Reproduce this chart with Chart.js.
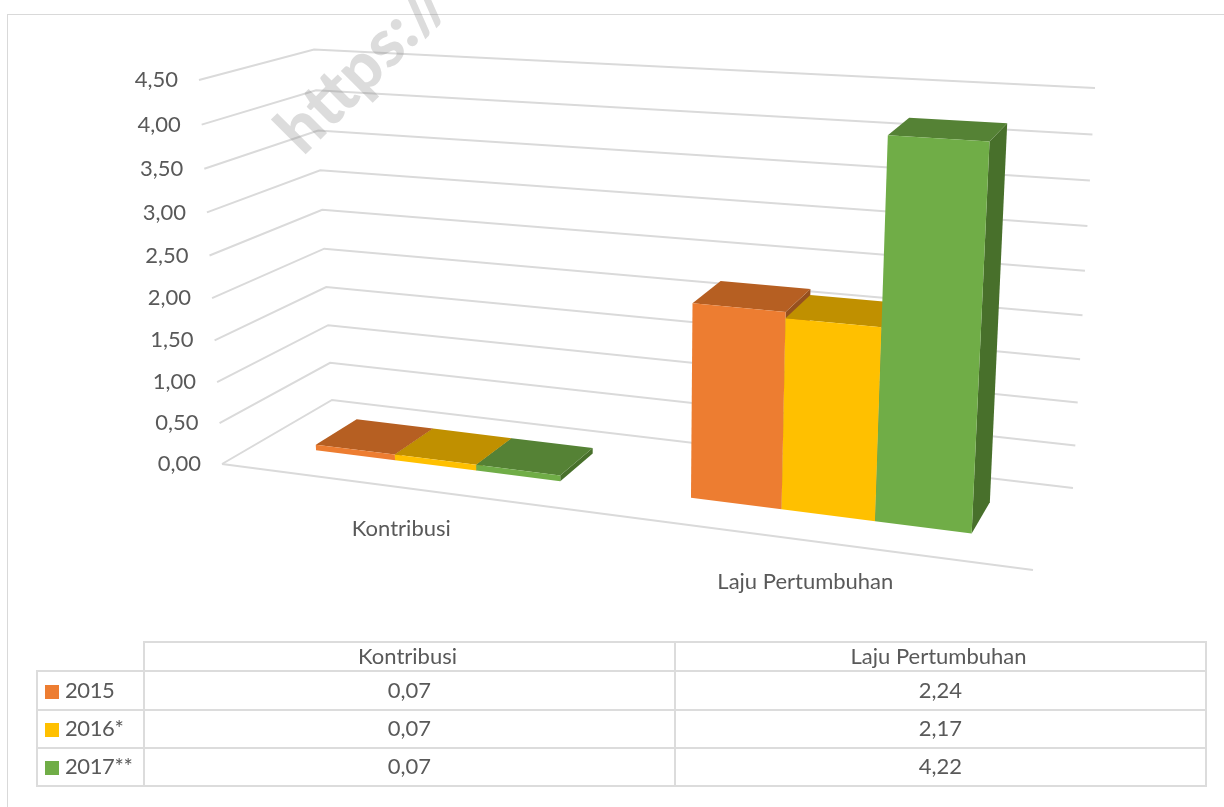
<!DOCTYPE html>
<html>
<head>
<meta charset="utf-8">
<script src="https://cdn.jsdelivr.net/npm/chart.js@4"></script>
<style>
  html, body { margin: 0; padding: 0; background: #fff; overflow: hidden; }
  #page { position: relative; width: 1224px; height: 807px; overflow: hidden; }
  #frame { position: absolute; left: 7px; top: 14px; width: 1300px; height: 900px; border: 1px solid #d9d9d9; }
  #rateChart { position: absolute; left: 0; top: 0; }
  #dataTable {
    position: absolute; left: 36px; top: 641px; border-collapse: collapse; table-layout: fixed;
    font-family: Lato, sans-serif; font-size: 22px; color: #595959;
  }
  #dataTable td { border: 2px solid #dcdcdc; text-align: center; padding: 0 0 2px 0; height: 34px; line-height: 26px; }
  #dataTable tr:first-child td { height: 25px; line-height: 25px; padding: 0 4px 2px 0; }
  #dataTable tr:nth-child(2) td { height: 35px; }
  #dataTable tr:first-child td:first-child { border-left: none; border-top: none; }
  #dataTable td.name { text-align: left; white-space: nowrap; letter-spacing: -0.4px; }
  #dataTable .key { display: inline-block; width: 14px; height: 14px; margin: 0 6px 0 7px; vertical-align: -1px; }
</style>
</head>
<body>
<div id="page">
  <div id="frame"></div>
  <canvas id="rateChart" width="1224" height="807"></canvas>
  <table id="dataTable"></table>
</div>
<script>
const categories = ["Kontribusi", "Laju Pertumbuhan"];
const seriesNames = ["2015", "2016*", "2017**"];
const values2015 = [0.07, 2.24];
const values2016 = [0.07, 2.17];
const values2017 = [0.07, 4.22];
const tickLabels = ["0,00", "0,50", "1,00", "1,50", "2,00", "2,50", "3,00", "3,50", "4,00", "4,50"];

const frontColors = ["#ed7d31", "#ffc000", "#70ad47"];
const topColors = ["#b65f22", "#c09000", "#558235"];
const sideColors = ["#96501f", "#977200", "#48702b"];
const textColor = "#595959";
const gridColor = "#dadada";

// corners of the 3d box on screen: floor points and how far "up" goes at each
const floorFL = [222, 464], floorFR = [1033, 570], floorBL = [332, 400], floorBR = [1073, 488];
const upFL = [-23, -384], upFR = [24, -436], upBL = [-18, -350.5], upBR = [22, -400];
const barFront = 0.33, barBack = 0.72;
const widen = 0.87; // left side of the box is further away
const rise = 0.95;  // same thing for the height, upper part looks bigger

function mix(a, b, k) {
  return [a[0] + (b[0] - a[0]) * k, a[1] + (b[1] - a[1]) * k];
}

function bend(x, k) {
  return x * k / (1 - (1 - k) * x);
}

// t across (0-1), d depth (0 front, 1 back), v height (0-1)
function project(t, d, v) {
  const u = bend(t, widen), h = bend(v, rise);
  const floor = mix(mix(floorFL, floorFR, u), mix(floorBL, floorBR, u), d);
  const up = mix(mix(upFL, upFR, u), mix(upBL, upBR, u), d);
  return [floor[0] + up[0] * h, floor[1] + up[1] * h];
}

function fillPoly(ctx, pts, color) {
  ctx.fillStyle = color;
  ctx.beginPath();
  pts.forEach((p, i) => i ? ctx.lineTo(p[0], p[1]) : ctx.moveTo(p[0], p[1]));
  ctx.closePath();
  ctx.fill();
}

const box3d = {
  id: "box3d",
  beforeDatasetsDraw(chart) {
    const ctx = chart.ctx, area = chart.chartArea, y = chart.scales.y;
    const toV = py => (area.bottom - py) / area.height;
    const toT = px => (px - area.left) / area.width;

    // walls
    ctx.save();
    ctx.strokeStyle = gridColor;
    ctx.lineWidth = 2;
    ctx.font = "22px Lato, sans-serif";
    ctx.fillStyle = textColor;
    ctx.textAlign = "right";
    ctx.textBaseline = "middle";
    y.ticks.forEach((tick, i) => {
      const v = toV(y.getPixelForValue(tick.value));
      const a = project(0, 0, v), b = project(0, 1, v), c = project(1, 1, v);
      ctx.beginPath();
      ctx.moveTo(a[0], a[1]);
      ctx.lineTo(b[0], b[1]);
      ctx.lineTo(c[0], c[1]);
      ctx.stroke();
      ctx.fillText(tickLabels[i], a[0] - 21, a[1]);
    });
    const f0 = project(0, 0, 0), f1 = project(1, 0, 0);
    ctx.beginPath();
    ctx.moveTo(f0[0], f0[1]);
    ctx.lineTo(f1[0], f1[1]);
    ctx.stroke();

    // category labels under the floor
    ctx.textAlign = "center";
    categories.forEach((name, i) => {
      const p = project(toT(chart.scales.x.getPixelForValue(i)), 0, 0);
      ctx.fillText(name, p[0] - 3, p[1] + 41);
    });

    // bars, left to right so the nearer side faces overlap properly
    categories.forEach((name, c) => {
      chart.data.datasets.forEach((ds, s) => {
        const bar = chart.getDatasetMeta(s).data[c];
        const t0 = toT(bar.x - bar.width / 2), t1 = toT(bar.x + bar.width / 2);
        const v0 = toV(bar.base), v1 = toV(bar.y);
        fillPoly(ctx, [project(t1, barFront, v1), project(t1, barBack, v1), project(t1, barBack, v0), project(t1, barFront, v0)], sideColors[s]);
        fillPoly(ctx, [project(t0, barFront, v1), project(t0, barBack, v1), project(t1, barBack, v1), project(t1, barFront, v1)], topColors[s]);
        fillPoly(ctx, [project(t0, barFront, v0), project(t0, barFront, v1), project(t1, barFront, v1), project(t1, barFront, v0)], frontColors[s]);
      });
    });
    ctx.restore();
    return false;
  },
  afterDraw(chart) {
    // watermark, runs off the top of the page
    const ctx = chart.ctx;
    ctx.save();
    ctx.translate(303, 157);
    ctx.rotate(-Math.PI / 4);
    ctx.font = "900 66px Lato, sans-serif";
    ctx.fillStyle = "rgba(130,130,130,0.28)";
    ctx.textAlign = "left";
    ctx.textBaseline = "alphabetic";
    ctx.fillText("https://", 0, 0);
    ctx.restore();
  }
};

new Chart(document.getElementById("rateChart"), {
  type: "bar",
  data: {
    labels: categories,
    datasets: [
      { label: seriesNames[0], data: values2015, backgroundColor: frontColors[0] },
      { label: seriesNames[1], data: values2016, backgroundColor: frontColors[1] },
      { label: seriesNames[2], data: values2017, backgroundColor: frontColors[2] }
    ]
  },
  options: {
    responsive: false,
    animation: false,
    barPercentage: 1,
    categoryPercentage: 2 / 3,
    plugins: { legend: { display: false }, tooltip: { enabled: false } },
    scales: {
      x: { display: false },
      y: { display: false, min: 0, max: 4.5, ticks: { stepSize: 0.5 } }
    }
  },
  plugins: [box3d]
});

// data table under the chart
const table = document.getElementById("dataTable");
const colWidths = [106, 530, 530];
const fmt = n => n.toFixed(2).replace(".", ",");
let html = "<colgroup>" + colWidths.map(w => `<col style="width:${w + 1}px">`).join("") + "</colgroup>";
html += "<tr><td></td>" + categories.map(c => `<td>${c}</td>`).join("") + "</tr>";
[values2015, values2016, values2017].forEach((vals, s) => {
  html += `<tr><td class="name"><span class="key" style="background:${frontColors[s]}"></span>${seriesNames[s]}</td>`;
  html += vals.map(v => `<td>${fmt(v)}</td>`).join("") + "</tr>";
});
table.innerHTML = html;
</script>
</body>
</html>
